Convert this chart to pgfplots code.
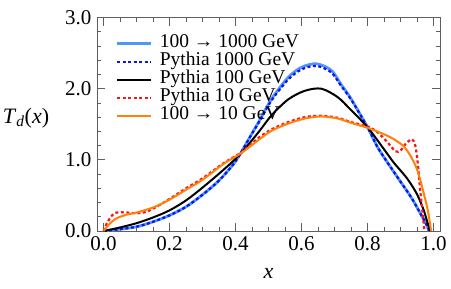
\documentclass[border=0pt]{standalone}
\usepackage{fontspec}
\setmainfont{Liberation Serif}
\usepackage{pgfplots}
\pgfplotsset{compat=1.18}
\definecolor{lblue}{RGB}{80,150,245}
\definecolor{dblue}{RGB}{10,20,240}
\definecolor{pred}{RGB}{250,20,20}
\definecolor{orng}{RGB}{255,128,10}
\definecolor{frame}{RGB}{95,95,95}

\begin{document}
\begin{tikzpicture}
\begin{axis}[
  width=343bp, height=213.5bp, scale only axis,
  xmin=-0.02, xmax=1.02, ymin=0, ymax=3,
  xtick={0,0.2,0.4,0.6,0.8,1}, ytick={0,1,2,3},
  minor x tick num=3, minor y tick num=4,
  tick align=inside,
  major tick length=8bp, minor tick length=4bp,
  axis line style={frame, line width=0.7bp},
  every tick/.style={frame, line width=0.7bp},
  every minor tick/.style={frame, line width=0.6bp},
  every tick label/.append style={font=\fontsize{21bp}{21bp}\selectfont, inner sep=0pt},
  xticklabel style={yshift=-5.7bp},
  yticklabel style={xshift=-5.3bp},
  /pgf/number format/fixed, /pgf/number format/fixed zerofill,
  /pgf/number format/precision=1, /pgf/number format/assume math mode=true,
  xlabel={\textit{x}},
  xlabel style={at={(rel axis cs:0.5,-0.2)}, anchor=center, font=\fontsize{22bp}{22bp}\selectfont},
  ylabel={\textit{T}\textsubscript{\textit{d}}(\textit{x})},
  ylabel style={rotate=-90, at={(rel axis cs:-0.207,0.53)}, anchor=center, font=\fontsize{22bp}{22bp}\selectfont},
  legend style={at={(rel axis cs:0.055,0.918)}, anchor=north west, draw=none, fill=none,
    inner sep=0pt, font=\fontsize{19.5bp}{19.5bp}\selectfont, row sep=1.1bp,
    nodes={inner sep=0pt, text height=12bp, text depth=4.9bp},
    /tikz/every odd column/.append style={column sep=7bp}},
  legend cell align=left,
  legend image code/.code={\draw[#1] (0bp,0bp) -- (34bp,0bp);},
]
% 100 -> 1000 GeV
\addplot[lblue, line width=2.8bp, smooth] coordinates {
(0,0) (0.04,0.02) (0.1,0.06) (0.15,0.13) (0.2,0.22) (0.25,0.34) (0.3,0.51)
(0.35,0.71) (0.4,0.98) (0.45,1.37) (0.47,1.53) (0.51,1.86) (0.56,2.16)
(0.6,2.30) (0.645,2.35) (0.69,2.26) (0.72,2.06) (0.75,1.86) (0.8,1.46)
(0.833,1.16) (0.883,0.81) (0.933,0.47) (0.96,0.25) (0.978,0.10) (0.987,0)};
\addlegendentry{100 → 1000 GeV}
% Pythia 1000 GeV
\addplot[dblue, line width=2.2bp, dash pattern=on 3bp off 2.5bp, smooth] coordinates {
(0,0) (0.04,0.02) (0.1,0.06) (0.15,0.13) (0.2,0.22) (0.25,0.34) (0.3,0.51)
(0.35,0.71) (0.4,0.98) (0.45,1.37) (0.47,1.52) (0.51,1.84) (0.56,2.13)
(0.6,2.27) (0.645,2.32) (0.69,2.23) (0.72,2.04) (0.75,1.85) (0.8,1.46)
(0.833,1.16) (0.883,0.81) (0.933,0.47) (0.96,0.25) (0.978,0.10) (0.987,0)};
\addlegendentry{Pythia 1000 GeV}
% Pythia 100 GeV
\addplot[black, line width=2bp, smooth] coordinates {
(0,0) (0.05,0.05) (0.1,0.11) (0.15,0.19) (0.2,0.29) (0.25,0.43) (0.3,0.61)
(0.366,0.87) (0.416,1.09) (0.47,1.39) (0.51,1.63) (0.56,1.85) (0.61,1.97)
(0.66,2.0) (0.71,1.88) (0.75,1.70) (0.8,1.46) (0.85,1.15) (0.88,0.96)
(0.92,0.74) (0.95,0.52) (0.97,0.30) (0.98,0.15) (0.99,0)};
\addlegendentry{Pythia 100 GeV}
% Pythia 10 GeV
\addplot[pred, line width=2.2bp, dash pattern=on 3bp off 2.5bp, smooth] coordinates {
(0,0) (0.01,0.11) (0.026,0.22) (0.04,0.26) (0.07,0.26) (0.1,0.25) (0.13,0.27)
(0.16,0.34) (0.2,0.45) (0.25,0.60) (0.3,0.74) (0.366,0.96) (0.416,1.10)
(0.47,1.31) (0.51,1.43) (0.56,1.53) (0.61,1.60) (0.66,1.62) (0.71,1.59)
(0.75,1.53) (0.8,1.47) (0.83,1.39) (0.86,1.25) (0.885,1.12) (0.9,1.13)
(0.915,1.22) (0.935,1.29) (0.945,1.2) (0.952,0.98) (0.958,0.67) (0.965,0.35) (0.973,0)};
\addlegendentry{Pythia 10 GeV}
% 100 -> 10 GeV
\addplot[orng, line width=2bp, smooth] coordinates {
(0,0) (0.02,0.11) (0.04,0.18) (0.07,0.23) (0.1,0.26) (0.15,0.33) (0.2,0.44)
(0.25,0.58) (0.3,0.72) (0.366,0.95) (0.416,1.09) (0.47,1.28) (0.51,1.41)
(0.56,1.51) (0.61,1.58) (0.66,1.61) (0.71,1.58) (0.75,1.52) (0.8,1.45)
(0.85,1.36) (0.88,1.29) (0.91,1.19) (0.93,1.06) (0.95,0.87) (0.968,0.58)
(0.983,0.29) (0.993,0)};
\addlegendentry{100 → 10 GeV}
\end{axis}
\pgfresetboundingbox
\path[use as bounding box] (-97bp,-58bp) rectangle (354bp,231bp);
\end{tikzpicture}
\end{document}
